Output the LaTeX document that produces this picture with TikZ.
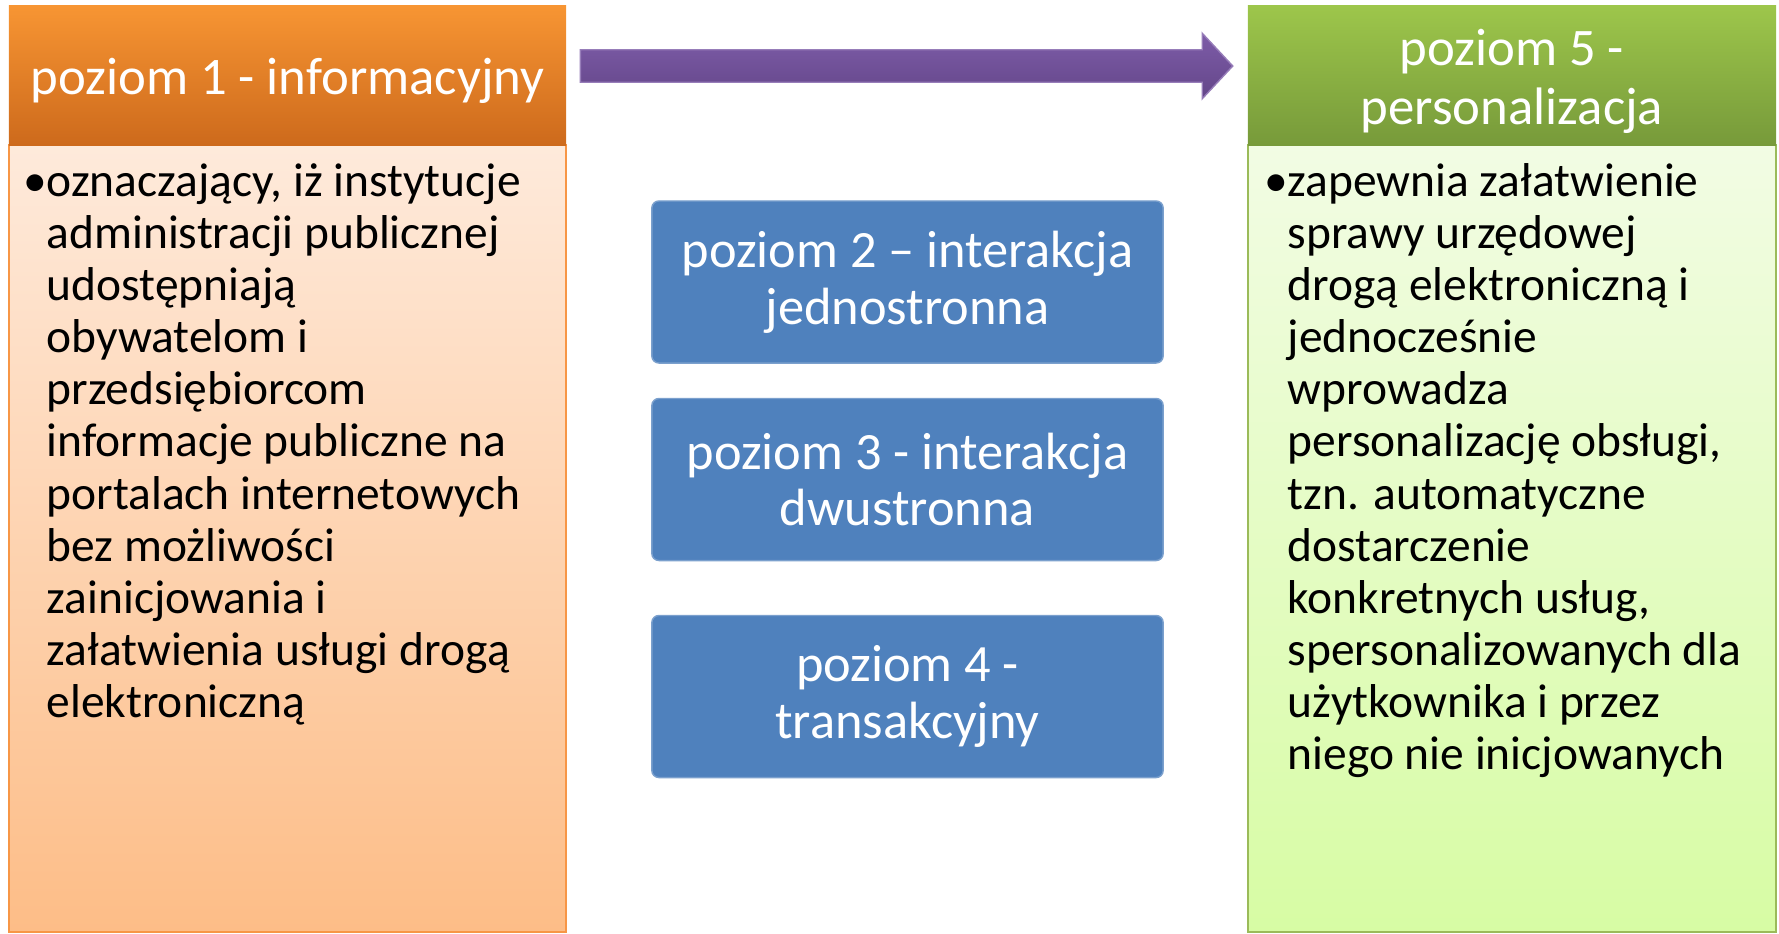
\documentclass[tikz,border=0pt]{standalone}
\usepackage{fontspec}
\setmainfont{Carlito}
\usepackage{xcolor}
\usepackage{tikz}
\usetikzlibrary{shapes.arrows}

\definecolor{orangetop}{HTML}{F79533}
\definecolor{orangebot}{HTML}{CD6A1C}
\definecolor{peachtop}{HTML}{FEEADB}
\definecolor{peachbot}{HTML}{FDBD87}
\definecolor{orangeline}{HTML}{F79646}
\definecolor{greentop}{HTML}{9DC64B}
\definecolor{greenbot}{HTML}{779A3A}
\definecolor{limetop}{HTML}{F2FCE4}
\definecolor{limebot}{HTML}{D7FCA4}
\definecolor{greenline}{HTML}{9BBB59}
\definecolor{levelblue}{HTML}{4F81BD}
\definecolor{purpletop}{HTML}{7D5CA8}
\definecolor{purplebot}{HTML}{644689}

\begin{document}
\begin{tikzpicture}[x=0.01cm,y=-0.01cm,
  headbox/.style={minimum height=1.39cm,inner sep=0pt},
  headtext/.style={inner sep=0pt,text=white,align=center,
    font=\fontsize{15pt}{16.8pt}\selectfont},
  bodybox/.style={minimum height=7.87cm,inner sep=0pt,line width=0.6pt},
  bodytext/.style={anchor=north west,inner sep=0pt,align=left,
    font=\fontsize{13.5pt}{14.8pt}\selectfont},
  levelbox/.style={fill=levelblue,draw=levelblue!75!white,rounded corners=2pt,
    text=white,align=center,minimum width=5.11cm,minimum height=1.62cm,
    font=\fontsize{14.9pt}{16.2pt}\selectfont}]
\useasboundingbox (0,0) rectangle (1779,933);

% poziom 1
\node[bodybox,minimum width=5.57cm,draw=orangeline,top color=peachtop,bottom color=peachbot] (body1) at (287.5,538.5) {};
\node[headbox,minimum width=5.57cm,top color=orangetop,bottom color=orangebot] (head1) at (287.5,75.5) {};
\node[headtext] (title1) at ([yshift=-0.05cm]head1.center) {poziom 1 - informacyjny};
\node[bodytext] (text1) at (46,156) {\rule{0pt}{0.4cm}\llap{•}oznaczający, iż instytucje\\
administracji publicznej\\
udostępniają\\
obywatelom i\\
przedsiębiorcom\\
informacje publiczne na\\
portalach internetowych\\
bez możliwości\\
zainicjowania i\\
załatwienia usługi drogą\\
elektroniczną};

% poziom 5
\node[bodybox,minimum width=5.28cm,draw=greenline,top color=limetop,bottom color=limebot] (body5) at (1512,538.5) {};
\node[headbox,minimum width=5.28cm,top color=greentop,bottom color=greenbot] (head5) at (1512,75.5) {};
\node[headtext] (title5) at ([yshift=-0.06cm]head5.center) {poziom 5 -\\personalizacja};
\node[bodytext] (text5) at (1287,156) {\rule{0pt}{0.4cm}\llap{•}zapewnia załatwienie\\
sprawy urzędowej\\
drogą elektroniczną i\\
jednocześnie\\
wprowadza\\
personalizację obsługi,\\
tzn. automatyczne\\
dostarczenie\\
konkretnych usług,\\
spersonalizowanych dla\\
użytkownika i przez\\
niego nie inicjowanych};

% poziomy 2-4
\node[levelbox] (level2) at (907.5,282) {poziom 2 – interakcja\\jednostronna};
\node[levelbox] (level3) at (907.5,479.5) {poziom 3 - interakcja\\dwustronna};
\node[levelbox] (level4) at (907.5,696.5) {poziom 4 -\\transakcyjny};

% strzalka
\node[single arrow,minimum height=6.52cm,inner xsep=0pt,inner ysep=0.155cm,
  single arrow head extend=0.165cm,single arrow tip angle=94,
  top color=purpletop,bottom color=purplebot,draw=purpletop!80!white,line width=0.4pt] (flow) at (899,66) {};
\end{tikzpicture}
\end{document}
